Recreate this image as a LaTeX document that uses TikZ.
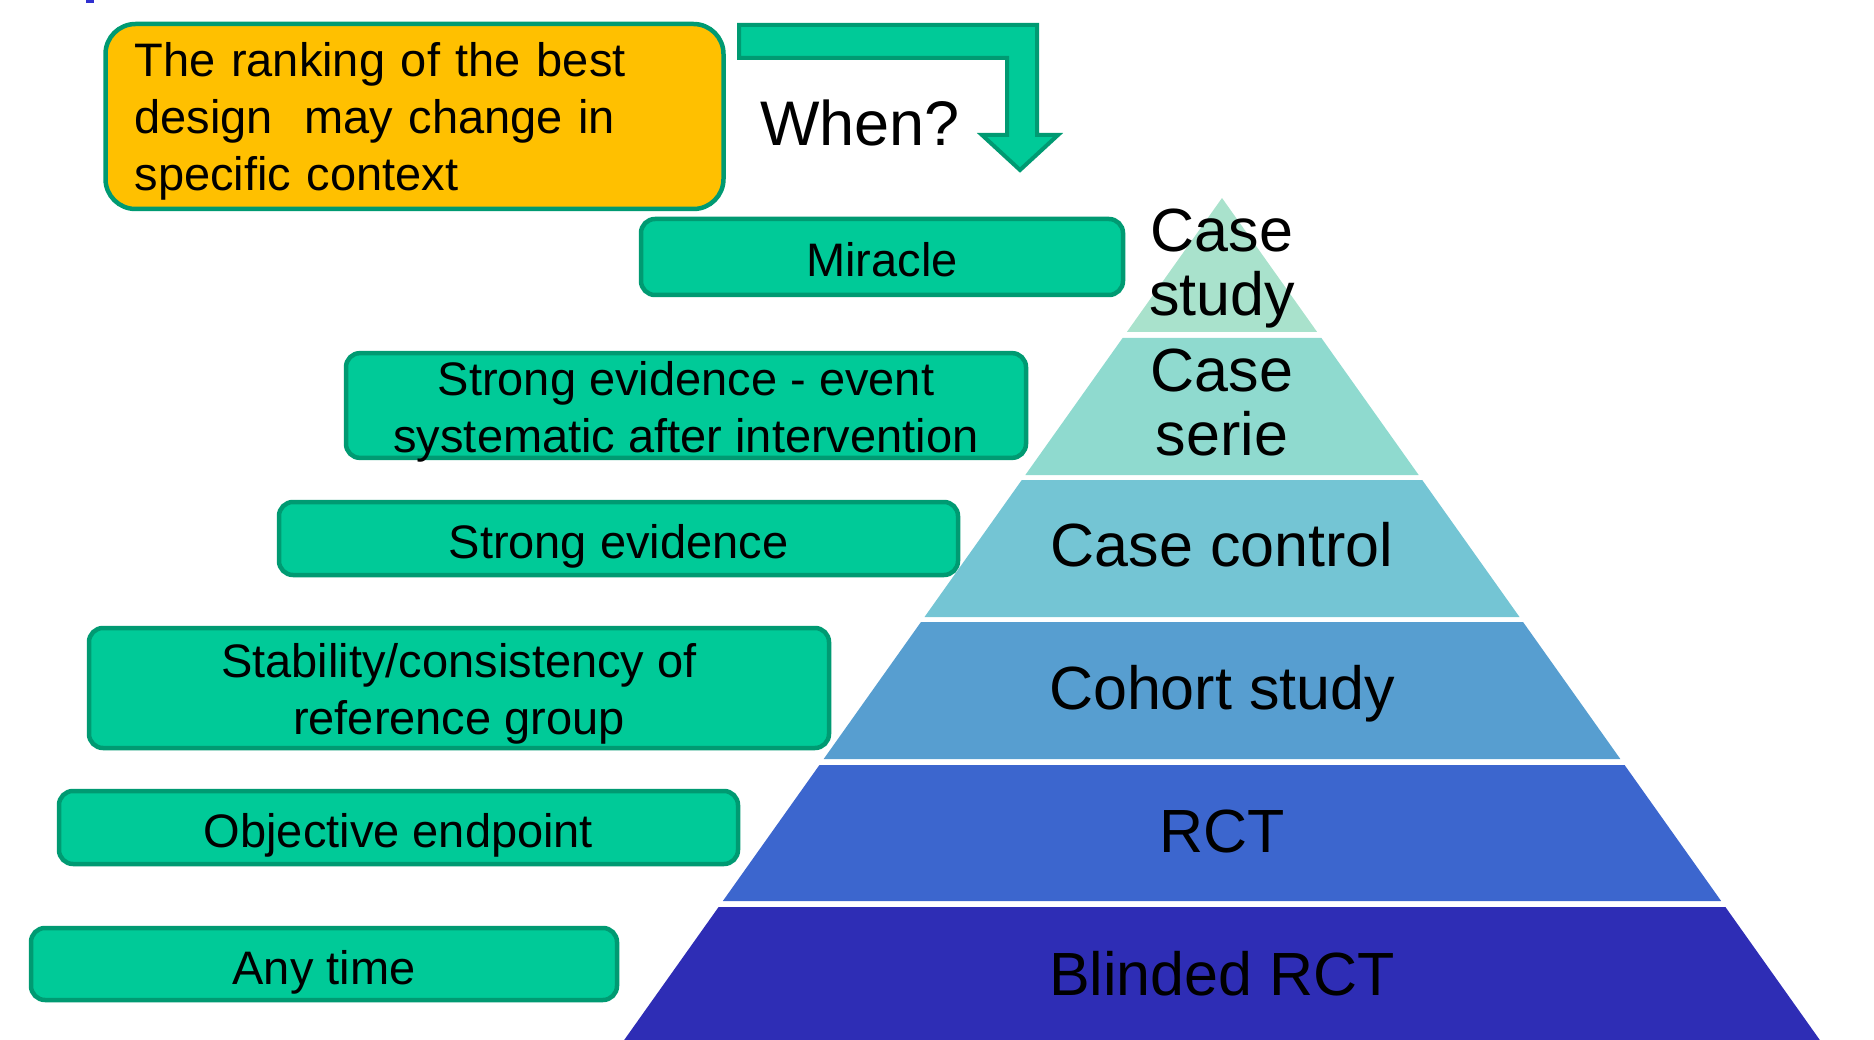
\documentclass[tikz,border=0pt]{standalone}
\usepackage{fontspec}
\setmainfont{Liberation Sans}
\usetikzlibrary{positioning}
\definecolor{boxgreen}{HTML}{00CA98}
\definecolor{boxedge}{HTML}{009A72}
\definecolor{noteorange}{HTML}{FFC000}
\definecolor{markblue}{HTML}{3030D0}
\definecolor{lvlA}{HTML}{A9E2CC}
\definecolor{lvlB}{HTML}{8FDACF}
\definecolor{lvlC}{HTML}{74C5D4}
\definecolor{lvlD}{HTML}{579ED0}
\definecolor{lvlE}{HTML}{3C66CE}
\definecolor{lvlF}{HTML}{2E2DB5}
\newcommand{\liftline}[1][46pt]{\rule{0pt}{#1}}
\begin{document}
\begin{tikzpicture} [x=1pt, y=-1pt]
	\tikzset{box/.style={draw=boxedge, fill=boxgreen, line width=4.5pt, rounded corners=14pt, align=center, inner sep=0pt, font=\fontsize{47}{57}\selectfont}}
	\tikzset{oneline/.style={text height=42pt, text depth=2pt}}
	\tikzset{level/.style={inner sep=0pt, align=center, font=\fontsize{61}{63.5}\selectfont}}
	\useasboundingbox (0,0) rectangle (1874,1040);
	\fill[markblue] (86,0) rectangle (94,3);

	% pyramid, apex at (1222,198)
	\foreach \t/\b/\c in {198/332/lvlA, 338/475/lvlB, 480/617/lvlC, 622/759/lvlD, 765/901/lvlE, 907/1040/lvlF}
		\fill[\c] ({1222-0.71*(\t-198)},\t) -- ({1222+0.71*(\t-198)},\t) -- ({1222+0.71*(\b-198)},\b) -- ({1222-0.71*(\b-198)},\b) -- cycle;
	\node[level, anchor=north]	(study)		at (1222,209)	{Case\\study};
	\node[level, anchor=north]	(serie)		at (1222,349)	{Case\\serie};
	\node[level, anchor=base]	(control)	at (1222,566)	{Case control};
	\node[level, anchor=base]	(cohort)	at (1222,709)	{Cohort study};
	\node[level, anchor=base]	(rct)		at (1222,852)	{RCT};
	\node[level, anchor=base]	(blinded)	at (1222,995)	{Blinded RCT};

	% green boxes
	\node[box, oneline, minimum width=482pt, minimum height=76pt]	(miracle)	at (882,257)	{Miracle};
	\node[box, inner ysep=-4pt, minimum width=680pt]	(event)		at (686,405.5)	{\liftline Strong evidence - event\\systematic after intervention};
	\node[box, oneline, minimum width=679pt, minimum height=73pt]	(strong)	at (618.5,538.5) {Strong evidence};
	\node[box, minimum width=740pt, minimum height=120pt]	(stability)	at (459,688)	{\liftline Stability/consistency of\\reference group};
	\node[box, oneline, minimum width=679pt, minimum height=73pt]	(objective)	at (398.5,827.5) {Objective endpoint};
	\node[box, oneline, minimum width=586pt, minimum height=72pt]	(anytime)	at (324,964)	{Any time};

	% note and arrow
	\node[box, fill=noteorange, rounded corners=30pt, align=left, text width=560pt, inner xsep=29pt, minimum height=185pt]
		(note) at (414.5,116.5) {\liftline[44pt]The ranking of the best\\design\ \ may change in\\specific context};
	\draw[draw=boxedge, fill=boxgreen, line width=4pt]
		(739,25) -- (1037,25) -- (1037,135) -- (1058,135) -- (1020,170) -- (982,135) -- (1007,135) -- (1007,58) -- (739,58) -- cycle;
	\node[anchor=base, inner sep=0pt, font=\fontsize{63}{70}\selectfont] (when) at (860,146) {When?};
\end{tikzpicture}
\end{document}
